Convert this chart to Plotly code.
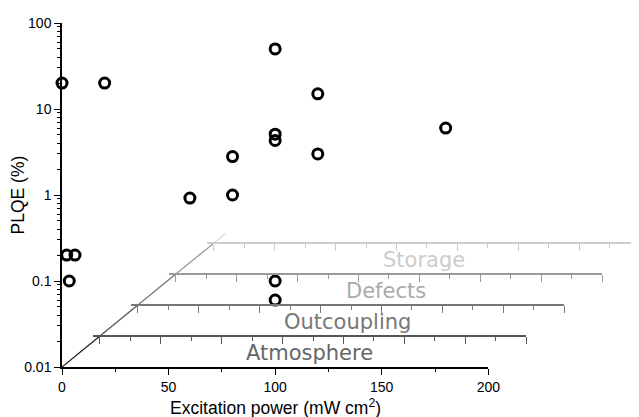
import plotly.graph_objects as go

# measured points
power = [0, 20, 100, 120, 180, 100, 100, 80, 120, 60, 80, 2.2, 6.1, 3.4, 100, 100]
plqe = [20, 20, 50, 15, 6, 5.1, 4.3, 2.8, 3.0, 0.92, 1.0, 0.2, 0.2, 0.1, 0.1, 0.06]

x_ticks = [0, 50, 100, 150, 200]
x_minor = [25, 75, 125, 175]
y_ticks = [0.01, 0.1, 1, 10, 100]
y_labels = ["0.01", "0.1", "1", "10", "100"]

# stacked "degradation" planes drawn in perspective behind the data
planes = ["Atmosphere", "Outcoupling", "Defects", "Storage"]
plane_line_colors = ["#555555", "#777777", "#9a9a9a", "#cccccc"]
plane_text_colors = ["#666666", "#777777", "#aaaaaa", "#cccccc"]
diag_colors = ["#222222", "#555555", "#777777", "#9a9a9a", "#dddddd"]

# page body keeps an 8px margin, so the figure is 8px smaller than the window
W, H = 631, 409
L, R, T, B = 54, 0, 15, 50
x_full = (W - L - R) / 2.1315   # x units spanning the whole plot width
dx, dy = 17.8, 0.36        # depth shift per plane (x units, decades)
lead = 3.3                 # line starts a little before its first tick

font = "Liberation Sans, Arial, sans-serif"

fig = go.Figure()

# diagonal depth axis, fading out towards the back
depth = [0, 1, 2, 3, 4, 4.3]
for i in range(len(depth) - 1):
    k0, k1 = depth[i], depth[i + 1]
    fig.add_trace(go.Scatter(
        x=[dx * k0, dx * k1],
        y=[10 ** (-2 + dy * k0), 10 ** (-2 + dy * k1)],
        mode="lines", line=dict(color=diag_colors[i], width=1.3),
        hoverinfo="skip", showlegend=False,
    ))

layout_axes = {}
for k, name in enumerate(planes, start=1):
    start = dx * k - lead
    end = min(x_full, dx * k + 200)
    d0, d1 = start / x_full, end / x_full
    ax = "xaxis%d" % (k + 2)
    layout_axes[ax] = dict(
        domain=[d0, d1], anchor="free", position=k * dy / 4,
        range=[-lead, end - dx * k], showgrid=False, zeroline=False,
        showline=True, linecolor=plane_line_colors[k - 1], linewidth=1.5,
        ticks="outside", tickcolor=plane_line_colors[k - 1], ticklen=7,
        tickwidth=1.3, tick0=0, dtick=200 / 7, showticklabels=False,
        minor=dict(ticks="outside", ticklen=4, tick0=0, dtick=200 / 14,
                   tickcolor=plane_line_colors[k - 1], tickwidth=1.3),
        fixedrange=True, automargin=False,
    )
    fig.add_trace(go.Scatter(x=[None], y=[None], xaxis="x%d" % (k + 2),
                             yaxis="y", showlegend=False, hoverinfo="skip"))
    fig.add_annotation(
        x=dx * k + 98.5, y=-2 + dy * k, xref="x", yref="y",
        text=name, showarrow=False, yanchor="middle", yshift=-17,
        font=dict(family="DejaVu Sans", size=21, color=plane_text_colors[k - 1]),
    )

fig.add_trace(go.Scatter(
    x=power, y=plqe, mode="markers",
    marker=dict(symbol="circle-open", size=10, color="black",
                line=dict(width=3, color="black")),
    cliponaxis=False, showlegend=False,
))

# axis titles
fig.add_annotation(
    x=100, y=0, xref="x", yref="paper", yshift=-40, yanchor="middle",
    text="Excitation power (mW cm<sup>2</sup>)", showarrow=False,
    font=dict(family=font, size=17.5, color="black"),
)
fig.add_annotation(
    x=0, y=0.5, xref="paper", yref="paper", xshift=-44.5, xanchor="center",
    text="PLQE (%)", textangle=-90, showarrow=False,
    font=dict(family=font, size=17.5, color="black"),
)

fig.update_layout(
    width=W, height=H,
    margin=dict(l=L, r=R, t=T, b=B),
    plot_bgcolor="rgba(0,0,0,0)", paper_bgcolor="white",
    font=dict(family=font, size=14, color="black"),
    xaxis=dict(
        domain=[0, 200 / x_full], range=[0, 200], automargin=False,
        showgrid=False, zeroline=False, showline=True,
        linecolor="black", linewidth=1.5,
        ticks="outside", ticklen=6, tickwidth=1.3, tickcolor="black",
        tickvals=x_ticks, ticktext=[str(v) for v in x_ticks],
        minor=dict(ticks="outside", ticklen=3, tickvals=x_minor,
                   tickcolor="black", tickwidth=1.3),
    ),
    yaxis=dict(
        type="log", range=[-2, 2], domain=[0, 1], automargin=False,
        showgrid=False, zeroline=False, showline=True,
        linecolor="black", linewidth=1.5,
        ticks="outside", ticklen=6, tickwidth=1.3, tickcolor="black",
        tickvals=y_ticks, ticktext=y_labels,
        minor=dict(ticks="outside", ticklen=3, dtick="D1",
                   tickcolor="black", tickwidth=1),
    ),
    **layout_axes,
)

fig.write_html("out.html")
